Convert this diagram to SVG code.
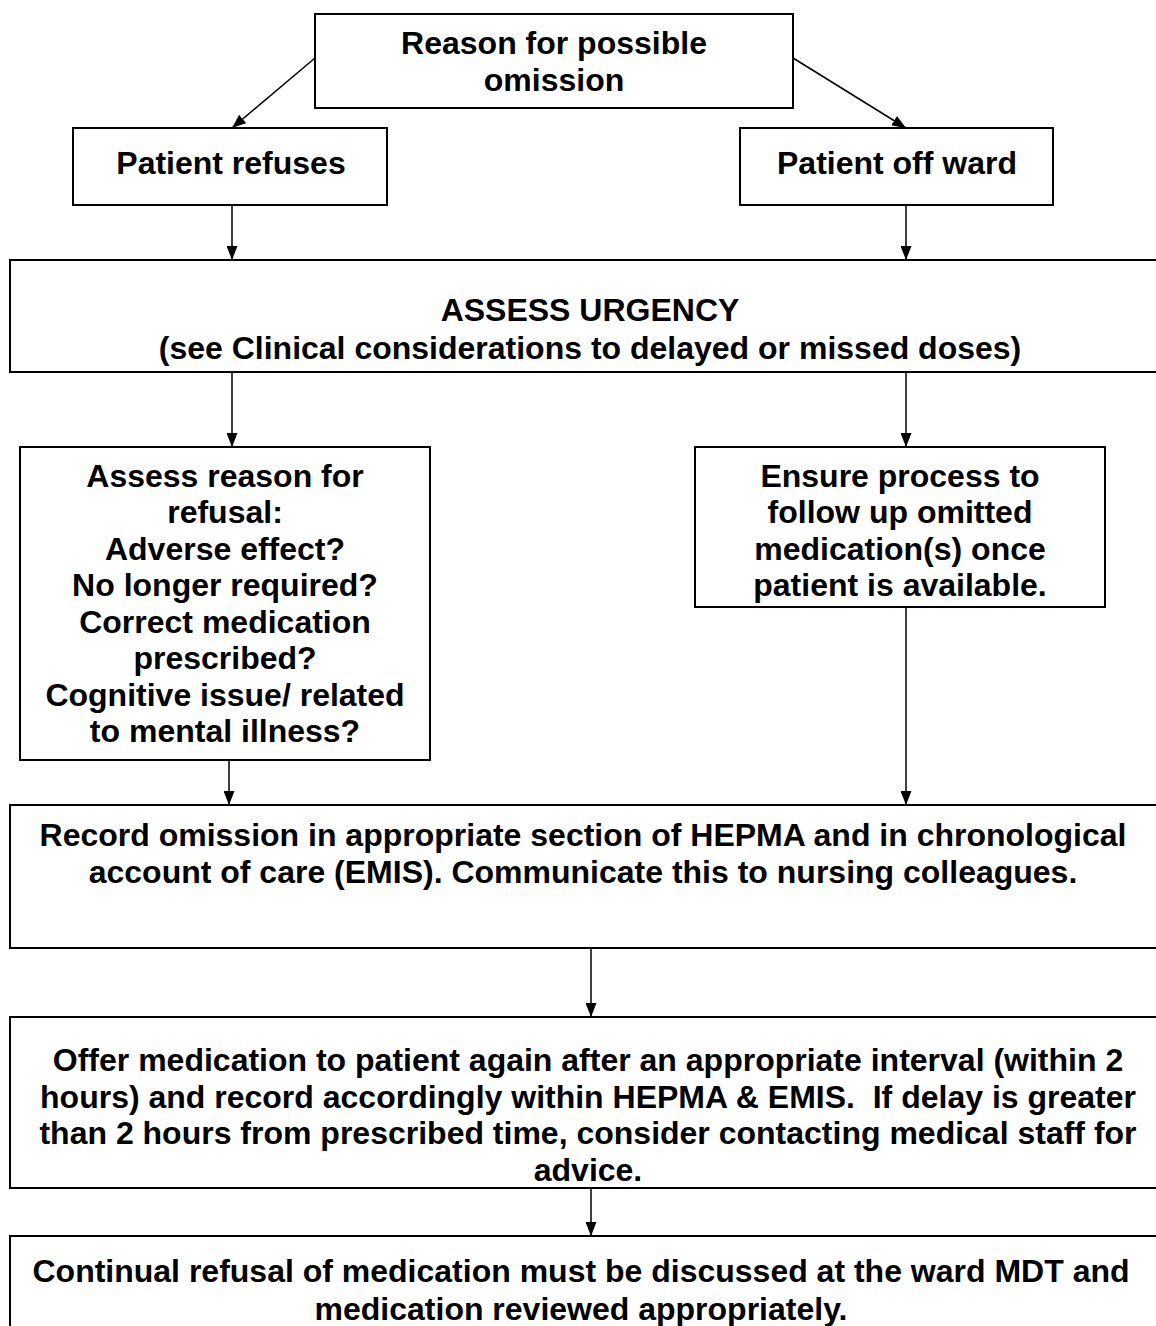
<svg xmlns="http://www.w3.org/2000/svg" width="1156" height="1326" viewBox="0 0 1156 1326">
<style>
rect.box{fill:#fff;stroke:#000;stroke-width:2}
text{font-family:"Liberation Sans",Arial,sans-serif;font-weight:bold;font-size:32px;fill:#000;text-anchor:middle}
.conn line{stroke:#000;stroke-width:1.5}
</style>
<defs>
<marker id="ah" markerWidth="14" markerHeight="11" refX="14" refY="5.5" orient="auto" markerUnits="userSpaceOnUse">
<path d="M0,0 L14,5.5 L0,11 Z" fill="#000"/>
</marker>
</defs>
<rect width="1156" height="1326" fill="#fff"/>
<g class="conn">
<line x1="315" y1="58" x2="232" y2="128" marker-end="url(#ah)"/>
<line x1="793" y1="58" x2="906" y2="128" marker-end="url(#ah)"/>
<line x1="232" y1="205" x2="232" y2="260" marker-end="url(#ah)"/>
<line x1="906" y1="205" x2="906" y2="260" marker-end="url(#ah)"/>
<line x1="232" y1="372" x2="232" y2="447" marker-end="url(#ah)"/>
<line x1="906" y1="372" x2="906" y2="447" marker-end="url(#ah)"/>
<line x1="229" y1="760" x2="229" y2="805" marker-end="url(#ah)"/>
<line x1="906" y1="607" x2="906" y2="805" marker-end="url(#ah)"/>
<line x1="591" y1="948" x2="591" y2="1017" marker-end="url(#ah)"/>
<line x1="591" y1="1188" x2="591" y2="1236" marker-end="url(#ah)"/>
</g>
<g id="n-reason">
<rect class="box" x="315" y="14" width="478" height="94"/>
<text x="554" y="54">Reason for possible</text>
<text x="554" y="91">omission</text>
</g>
<g id="n-refuses">
<rect class="box" x="73" y="128" width="314" height="77"/>
<text x="231" y="174">Patient refuses</text>
</g>
<g id="n-offward">
<rect class="box" x="740" y="128" width="313" height="77"/>
<text x="897" y="174">Patient off ward</text>
</g>
<g id="n-urgency">
<rect class="box" x="10" y="260" width="1160" height="112"/>
<text x="590" y="321">ASSESS URGENCY</text>
<text x="590" y="359">(see Clinical considerations to delayed or missed doses)</text>
</g>
<g id="n-assess">
<rect class="box" x="20" y="447" width="410" height="313"/>
<text x="225" y="487">Assess reason for</text>
<text x="225" y="523">refusal:</text>
<text x="225" y="560">Adverse effect?</text>
<text x="225" y="596">No longer required?</text>
<text x="225" y="633">Correct medication</text>
<text x="225" y="669">prescribed?</text>
<text x="225" y="706">Cognitive issue/ related</text>
<text x="225" y="742">to mental illness?</text>
</g>
<g id="n-ensure">
<rect class="box" x="695" y="447" width="410" height="160"/>
<text x="900" y="487">Ensure process to</text>
<text x="900" y="523">follow up omitted</text>
<text x="900" y="560">medication(s) once</text>
<text x="900" y="596">patient is available.</text>
</g>
<g id="n-record">
<rect class="box" x="10" y="805" width="1160" height="143"/>
<text x="583" y="846">Record omission in appropriate section of HEPMA and in chronological</text>
<text x="583" y="883">account of care (EMIS). Communicate this to nursing colleagues.</text>
</g>
<g id="n-offer">
<rect class="box" x="10" y="1017" width="1160" height="171"/>
<text x="588" y="1071">Offer medication to patient again after an appropriate interval (within 2</text>
<text x="588" y="1108" xml:space="preserve">hours) and record accordingly within HEPMA &amp; EMIS.  If delay is greater</text>
<text x="588" y="1144">than 2 hours from prescribed time, consider contacting medical staff for</text>
<text x="588" y="1181">advice.</text>
</g>
<g id="n-continual">
<rect class="box" x="10" y="1236" width="1160" height="120"/>
<text x="581" y="1282">Continual refusal of medication must be discussed at the ward MDT and</text>
<text x="581" y="1320">medication reviewed appropriately.</text>
</g>
</svg>
